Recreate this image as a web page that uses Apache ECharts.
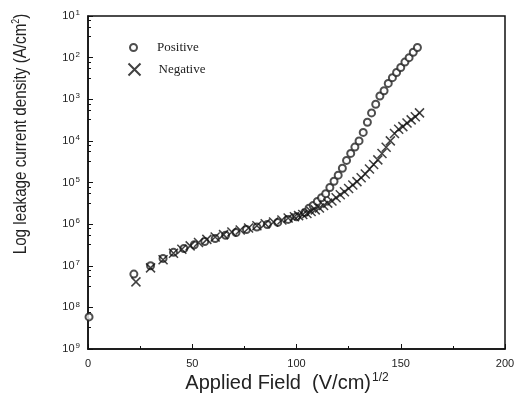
<!DOCTYPE html>
<html>
<head>
<meta charset="utf-8">
<script src="https://cdn.jsdelivr.net/npm/echarts@6/dist/echarts.min.js"></script>
<style>
  html, body { margin: 0; padding: 0; background: #fff; }
  #chart { width: 518px; height: 409px; }
</style>
</head>
<body>
<div id="chart"></div>
<script>
// x: applied field (V/cm)^1/2, y: leakage current density (A/cm2)
const positiveX = [0.5, 22, 30, 36, 41, 46, 51, 56, 61, 66, 71, 76, 81, 86, 91, 96, 100, 104,
  106, 108, 110, 112, 114, 116, 118, 120, 122, 124, 126, 128, 130, 132, 134, 136, 138, 140,
  142, 144, 146, 148, 150, 152, 154, 156, 158]
const positiveY = [5.9e-9, 6.3e-8, 1.0e-7, 1.5e-7, 2.1e-7, 2.6e-7, 3.2e-7, 3.8e-7, 4.5e-7, 5.4e-7,
  6.3e-7, 7.4e-7, 8.5e-7, 9.8e-7, 1.1e-6, 1.3e-6, 1.5e-6, 1.9e-6,
  2.4e-6, 2.8e-6, 3.5e-6, 4.3e-6, 5.4e-6, 7.6e-6, 1.07e-5, 1.5e-5, 2.2e-5, 3.4e-5, 5.0e-5,
  7.1e-5, 1.0e-4, 1.6e-4, 2.8e-4, 4.7e-4, 7.6e-4, 1.2e-3,
  1.6e-3, 2.4e-3, 3.3e-3, 4.4e-3, 5.8e-3, 7.8e-3, 1.0e-2, 1.35e-2, 1.75e-2]

const negativeX = [23, 30, 36, 41, 45, 49, 53, 57, 61, 65, 69, 73, 77, 81, 85, 89, 93, 96, 99,
  101, 103, 105, 107, 109, 111, 113, 115, 117, 119, 121, 123, 125, 127, 129, 131, 133, 135,
  137, 139, 141, 143, 145, 147, 149, 151, 153, 155, 157, 159]
const negativeY = [4.1e-8, 8.9e-8, 1.4e-7, 2.0e-7, 2.5e-7, 3.0e-7, 3.6e-7, 4.3e-7, 4.9e-7, 5.6e-7,
  6.5e-7, 7.2e-7, 8.1e-7, 9.1e-7, 1.02e-6, 1.12e-6, 1.26e-6, 1.4e-6, 1.5e-6,
  1.6e-6, 1.7e-6, 1.8e-6, 2.0e-6, 2.2e-6, 2.45e-6, 2.8e-6, 3.2e-6, 3.6e-6, 4.3e-6, 5.1e-6,
  6.0e-6, 7.2e-6, 8.7e-6, 1.05e-5, 1.3e-5, 1.6e-5, 2.1e-5,
  2.7e-5, 3.5e-5, 5.0e-5, 7.0e-5, 1.0e-4, 1.5e-4, 1.9e-4, 2.2e-4, 2.7e-4, 3.2e-4, 3.8e-4, 4.7e-4]

const xTicks = [0, 50, 100, 150, 200]
const yExponents = ['1', '2', '3', '4', '5', '6', '7', '8', '9']

const pairs = (xs, ys) => xs.map((x, i) => [x, ys[i]])
const crossPath = 'path://M0,0L10,10M10,0L0,10'

const chart = echarts.init(document.getElementById('chart'))
chart.setOption({
  animation: false,
  backgroundColor: '#fff',
  grid: {
    left: 88, right: 13, top: 16, bottom: 60,
    show: true, borderColor: '#111', borderWidth: 1.5
  },
  legend: [
    {
      data: ['Positive'],
      left: 124, top: 36,
      itemWidth: 7, itemHeight: 7,
      textStyle: { fontFamily: 'Liberation Serif', fontSize: 13, color: '#222', padding: [0, 0, 0, 15] }
    },
    {
      data: ['Negative'],
      left: 121, top: 56,
      itemWidth: 12, itemHeight: 12,
      textStyle: { fontFamily: 'Liberation Serif', fontSize: 13, color: '#222', padding: [0, 0, 0, 13] }
    }
  ],
  xAxis: {
    type: 'value',
    min: 0, max: 200, interval: 50,
    axisLine: { lineStyle: { color: '#111', width: 1.5 } },
    axisTick: { inside: true, length: 5, lineStyle: { color: '#111' } },
    minorTick: { show: true, splitNumber: 2, length: 3, lineStyle: { color: '#111' } },
    splitLine: { show: false },
    axisLabel: {
      margin: 9, color: '#222', fontFamily: 'Liberation Sans', fontSize: 11,
      formatter: (v) => (xTicks.includes(v) ? String(v) : '')
    }
  },
  yAxis: {
    type: 'log',
    logBase: 10,
    min: 1e-9, max: 1e-1,
    axisLine: { show: true, lineStyle: { color: '#111', width: 1.5 } },
    axisTick: { inside: true, length: 5, lineStyle: { color: '#111' } },
    minorTick: { show: true, splitNumber: 4, length: 3, lineStyle: { color: '#111' } },
    splitLine: { show: false },
    axisLabel: {
      margin: 8, color: '#222',
      formatter: (v) => {
        const e = Math.round(-Math.log10(v))
        return '{b|10}{s|' + yExponents[e - 1] + '}'
      },
      rich: {
        b: { fontFamily: 'Liberation Sans', fontSize: 11, color: '#222' },
        s: { fontFamily: 'Liberation Sans', fontSize: 8, color: '#222', verticalAlign: 'top', padding: [0, 0, 6, 1] }
      }
    }
  },
  graphic: [
    {
      type: 'text',
      x: 287, y: 383,
      style: {
        text: '{t|Applied Field  (V/cm)}{s|1/2}',
        align: 'center', verticalAlign: 'middle',
        rich: {
          t: { fontFamily: 'Liberation Sans', fontSize: 20, fill: '#222' },
          s: { fontFamily: 'Liberation Sans', fontSize: 12, fill: '#222', verticalAlign: 'top', padding: [0, 0, 11, 1] }
        }
      }
    },
    {
      type: 'text',
      x: 21, y: 134,
      rotation: Math.PI / 2,
      scaleX: 0.8,
      style: {
        text: '{t|Log leakage current density (A/cm}{s|2}{t|)}',
        align: 'center', verticalAlign: 'middle',
        rich: {
          t: { fontFamily: 'Liberation Sans', fontSize: 19, fill: '#222' },
          s: { fontFamily: 'Liberation Sans', fontSize: 11, fill: '#222', verticalAlign: 'top', padding: [0, 0, 10, 0] }
        }
      }
    }
  ],
  series: [
    {
      name: 'Positive',
      type: 'scatter',
      symbol: 'emptyCircle',
      symbolSize: 7,
      itemStyle: { color: '#222', borderColor: '#222', borderWidth: 1 },
      data: pairs(positiveX, positiveY)
    },
    {
      name: 'Negative',
      type: 'scatter',
      symbol: crossPath,
      symbolSize: 9,
      itemStyle: { color: 'none', borderColor: '#111', borderWidth: 1.5 },
      data: pairs(negativeX, negativeY)
    }
  ]
})
</script>
</body>
</html>
